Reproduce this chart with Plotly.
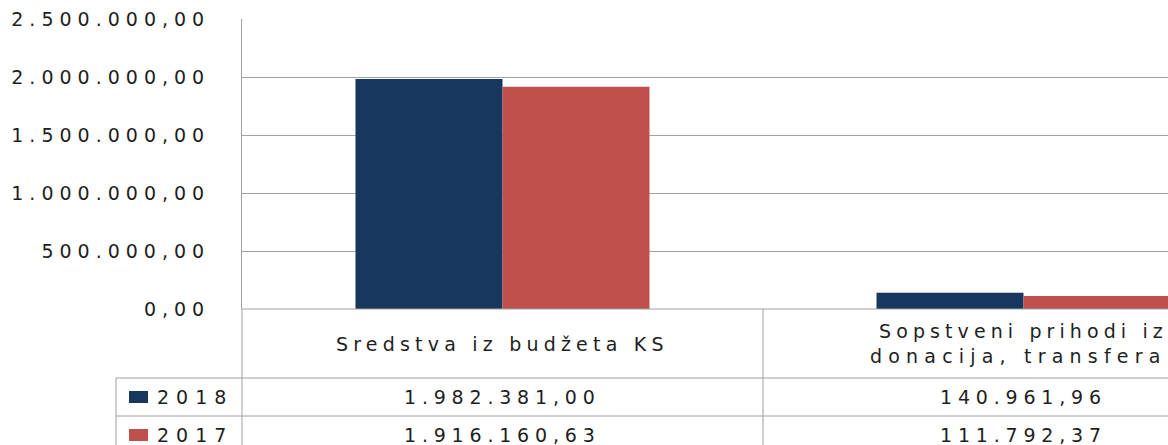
import plotly.graph_objects as go

# ---- data ----
categories = ["Sredstva iz budžeta KS", "Sopstveni prihodi iz donacija, transfera"]
category_lines = [["Sredstva iz budžeta KS"], ["Sopstveni prihodi iz", "donacija, transfera"]]
series_names = ["2018", "2017"]
values_2018 = [1982381.00, 140961.96]
values_2017 = [1916160.63, 111792.37]
tick_values = [0, 500000, 1000000, 1500000, 2000000, 2500000]
tick_labels = ["0,00", "500.000,00", "1.000.000,00", "1.500.000,00", "2.000.000,00", "2.500.000,00"]

colors = {"2018": "#17375E", "2017": "#C0504D"}
FONT = "DejaVu Sans"
TXT = "#1e1e1e"
GRID = "#a0a0a0"

W, H = 1168, 445
L, T = 242, 19
PB = 309  # pixel y of the zero line
PW, PH = W - L, PB - T
BAND = 521.0


def px(x):
    return (x - L) / PW


def py(y):
    return (PB - y) / PH


def sp(text, ls):
    return f'<span style="letter-spacing:{ls}px">{text}</span>'


def fmt(v):
    s = f"{v:,.2f}"
    return s.replace(",", "X").replace(".", ",").replace("X", ".")


xs = [0, 1]
fig = go.Figure()
fig.add_trace(go.Bar(x=xs, y=values_2018, name=series_names[0],
                     marker=dict(color=colors["2018"], line=dict(width=0))))
fig.add_trace(go.Bar(x=xs, y=values_2017, name=series_names[1],
                     marker=dict(color=colors["2017"], line=dict(width=0))))

fig.update_layout(
    width=W, height=H,
    margin=dict(l=L, r=0, t=T, b=H - PB, pad=0),
    paper_bgcolor="white", plot_bgcolor="white",
    showlegend=False,
    barmode="group", bargap=1 - 294 / BAND, bargroupgap=0,
    font=dict(family=FONT, size=19, color=TXT),
)
fig.update_xaxes(range=[-0.5, -0.5 + PW / BAND], showticklabels=False, showgrid=False,
                 zeroline=False, showline=False, ticks="")
fig.update_yaxes(range=[0, 2500000], tickvals=tick_values,
                 ticktext=[sp(t, 6) for t in tick_labels],
                 tickfont=dict(family=FONT, size=19, color=TXT),
                 showgrid=True, gridcolor=GRID, gridwidth=1,
                 zeroline=False, showline=True, linecolor=GRID, linewidth=1,
                 ticks="", ticklabelstandoff=27)

shapes = []
ann = []


def hline(y, x0, x1):
    shapes.append(dict(type="line", xref="paper", yref="paper", x0=px(x0), x1=px(x1),
                       y0=py(y), y1=py(y), line=dict(color=GRID, width=1)))


def vline(x, y0, y1):
    shapes.append(dict(type="line", xref="paper", yref="paper", x0=px(x), x1=px(x),
                       y0=py(y0), y1=py(y1), line=dict(color=GRID, width=1)))


# bottom axis line and table grid
hline(PB, L, W)
hline(378, 116, W)
hline(416, 116, W)
hline(454, 116, W)
vline(116, 378, 460)
vline(L, PB, 460)
vline(L + BAND, PB, 460)

# category labels
ann.append(dict(x=0, xref="x", y=py(343.5), yref="paper", text=sp(category_lines[0][0], 5.2),
                showarrow=False, xanchor="center", yanchor="middle"))
ann.append(dict(x=px(877), xref="paper", y=py(331), yref="paper", text=sp(category_lines[1][0], 5.1),
                showarrow=False, xanchor="left", yanchor="middle"))
ann.append(dict(x=px(868), xref="paper", y=py(356), yref="paper", text=sp(category_lines[1][1], 6.2),
                showarrow=False, xanchor="left", yanchor="middle"))

# data table rows
rows_y = [397, 435]
for name, vals, ry in zip(series_names, [values_2018, values_2017], rows_y):
    shapes.append(dict(type="rect", xref="paper", yref="paper", x0=px(129), x1=px(148),
                       y0=py(ry - 6), y1=py(ry + 6), fillcolor=colors[name], line=dict(width=0)))
    ann.append(dict(x=px(155), xref="paper", y=py(ry), yref="paper", text=sp(name, 7),
                    showarrow=False, xanchor="left", yanchor="middle"))
    for xi, v in zip(xs, vals):
        ann.append(dict(x=xi, xref="x", y=py(ry), yref="paper", text=sp(fmt(v), 5.8),
                        showarrow=False, xanchor="center", yanchor="middle"))

fig.update_layout(shapes=shapes, annotations=ann)
fig.write_html("out.html", config={"displayModeBar": False},
               post_script="document.body.style.margin='0';document.body.style.overflow='hidden';")
